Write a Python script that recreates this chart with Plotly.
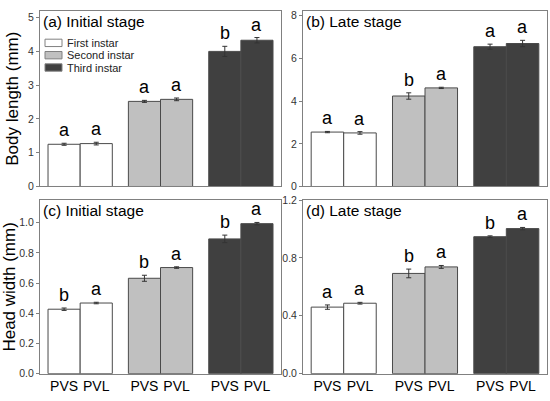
import plotly.graph_objects as go

# data
instars = ['First instar', 'Second instar', 'Third instar']
populations = ['PVS', 'PVL']

body_initial = [[1.25, 1.27], [2.52, 2.58], [4.00, 4.33]]
body_initial_err = [[0.03, 0.04], [0.03, 0.04], [0.15, 0.08]]
body_initial_sig = [['a', 'a'], ['a', 'a'], ['b', 'a']]

body_late = [[2.55, 2.51], [4.24, 4.62], [6.55, 6.70]]
body_late_err = [[0.03, 0.06], [0.15, 0.03], [0.12, 0.15]]
body_late_sig = [['a', 'a'], ['b', 'a'], ['a', 'a']]

head_initial = [[0.427, 0.468], [0.632, 0.703], [0.893, 0.994]]
head_initial_err = [[0.008, 0.005], [0.02, 0.005], [0.025, 0.008]]
head_initial_sig = [['b', 'a'], ['b', 'a'], ['b', 'a']]

head_late = [[0.460, 0.487], [0.693, 0.738], [0.947, 1.003]]
head_late_err = [[0.015, 0.006], [0.03, 0.01], [0.006, 0.008]]
head_late_sig = [['a', 'a'], ['b', 'a'], ['b', 'a']]

bar_colors = ['#ffffff', '#c0c0c0', '#404040']
FONT = 'Arial, Liberation Sans, sans-serif'
W, H = 550, 401

panels = [
    (body_initial, body_initial_err, body_initial_sig, 'x', 'y', '(a) Initial stage'),
    (body_late, body_late_err, body_late_sig, 'x2', 'y2', '(b) Late stage'),
    (head_initial, head_initial_err, head_initial_sig, 'x3', 'y3', '(c) Initial stage'),
    (head_late, head_late_err, head_late_sig, 'x4', 'y4', '(d) Late stage'),
]

fig = go.Figure()
annotations = []
shapes = []
offsets = [-0.2, 0.2]

for p, (vals, errs, sigs, xa, ya, title) in enumerate(panels):
    for g, name in enumerate(instars):
        xs = [g + o for o in offsets]
        fig.add_trace(go.Bar(
            x=xs, y=vals[g], width=0.4, name=name,
            xaxis=xa, yaxis=ya,
            marker=dict(color=bar_colors[g], line=dict(color='#4a4a4a', width=1)),
            error_y=dict(type='data', array=errs[g], color='#333333', thickness=1, width=2.5),
            showlegend=False,
        ))
        for i in range(2):
            annotations.append(dict(
                x=xs[i], y=vals[g][i] + errs[g][i], xref=xa, yref=ya,
                text=sigs[g][i], showarrow=False, yanchor='bottom', yshift=1,
                font=dict(family=FONT, size=18, color='#000000'),
            ))
    annotations.append(dict(
        x=0, y=1, xref=xa + ' domain', yref=ya + ' domain',
        text=title, showarrow=False, xanchor='left', yanchor='top',
        xshift=1, yshift=0,
        font=dict(family=FONT, size=15.5, color='#000000'),
    ))

# legend drawn by hand in panel (a), boxes wider than plotly's square swatches
for k, name in enumerate(instars):
    yc = 38 + k * 12.7
    shapes.append(dict(type='rect', xref='paper', yref='paper',
                       x0=45 / W, x1=62 / W,
                       y0=1 - (yc + 3.8) / H, y1=1 - (yc - 3.8) / H,
                       fillcolor=bar_colors[k], line=dict(color='#808080', width=1)))
    annotations.append(dict(x=65 / W, y=1 - yc / H, xref='paper', yref='paper',
                            text=name, showarrow=False, xanchor='left', yanchor='middle',
                            font=dict(family=FONT, size=11, color='#222222')))

axis_common = dict(showline=True, linecolor='#808080', linewidth=1, mirror=True,
                   showgrid=False, zeroline=False)
tick_pos = [g + o for g in range(3) for o in offsets]
tick_txt = populations * 3

fig.update_layout(
    width=W, height=H,
    margin=dict(l=0, r=0, t=0, b=0),
    paper_bgcolor='white', plot_bgcolor='white',
    barmode='overlay',
    font=dict(family=FONT, color='#333333'),
    showlegend=False,
    annotations=annotations,
    shapes=shapes,
    xaxis=dict(domain=[0.0727, 0.511], anchor='y', range=[-0.5, 2.5],
               showticklabels=False, ticks='', **axis_common),
    xaxis2=dict(domain=[0.551, 0.9945], anchor='y2', range=[-0.5, 2.5],
                showticklabels=False, ticks='', **axis_common),
    xaxis3=dict(domain=[0.0727, 0.511], anchor='y3', range=[-0.5, 2.5],
                tickvals=tick_pos, ticktext=tick_txt, ticks='',
                tickfont=dict(size=14, color='#000000'), **axis_common),
    xaxis4=dict(domain=[0.551, 0.9945], anchor='y4', range=[-0.5, 2.5],
                tickvals=tick_pos, ticktext=tick_txt, ticks='',
                tickfont=dict(size=14, color='#000000'), **axis_common),
    yaxis=dict(domain=[0.536, 0.9875], anchor='x', range=[0, 5.2], dtick=1,
               ticks='outside', ticklen=3, tickcolor='#808080',
               tickfont=dict(size=10.5), title=dict(text='Body length (mm)',
               font=dict(size=17, color='#000000'), standoff=5), **axis_common),
    yaxis2=dict(domain=[0.536, 0.9875], anchor='x2', range=[0, 8.23], dtick=2,
                ticks='outside', ticklen=3, tickcolor='#808080',
                tickfont=dict(size=10.5), **axis_common),
    yaxis3=dict(domain=[0.0549, 0.501], anchor='x3', range=[0, 1.15], dtick=0.2,
                tickformat='.1f', ticks='outside', ticklen=3, tickcolor='#808080',
                tickfont=dict(size=10.5), title=dict(text='Head width (mm)',
                font=dict(size=17, color='#000000'), standoff=5), **axis_common),
    yaxis4=dict(domain=[0.0549, 0.501], anchor='x4', range=[0, 1.2], dtick=0.4,
                tickformat='.1f', ticks='outside', ticklen=3, tickcolor='#808080',
                tickfont=dict(size=10.5), **axis_common),
)

# page body has an 8px default margin; drop it so the figure sits at the corner
fig.write_html("out.html", config={'displayModeBar': False},
               post_script="document.body.style.margin='0';")
